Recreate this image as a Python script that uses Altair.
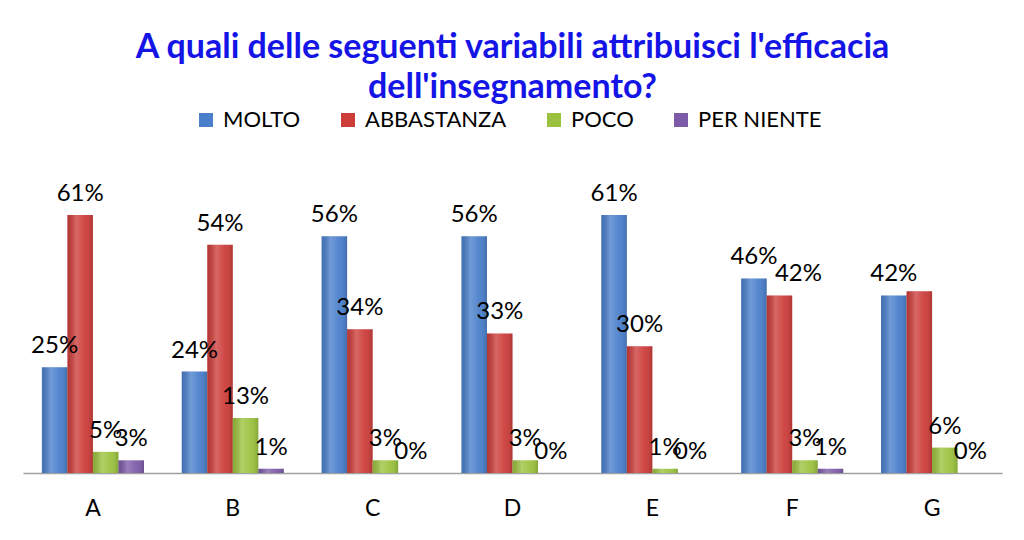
import altair as alt
import pandas as pd

categories = ["A", "B", "C", "D", "E", "F", "G"]
series = ["MOLTO", "ABBASTANZA", "POCO", "PER NIENTE"]
molto = [25, 24, 56, 56, 61, 46, 42]
abbastanza = [61, 54, 34, 33, 30, 42, 43]
poco = [5, 13, 3, 3, 1, 3, 6]
per_niente = [3, 1, 0, 0, 0, 1, 0]
colors = ["#4A7FCB", "#CC3D3A", "#9BC23E", "#7D5BA8"]

rows = []
for s, vals in zip(series, [molto, abbastanza, poco, per_niente]):
    for c, v in zip(categories, vals):
        label = f"{v}%"
        if c == "G" and s == "ABBASTANZA":
            label = ""
        shifted = (c == "F" and s == "ABBASTANZA")
        rows.append({"cat": c, "serie": s, "val": v, "label": label, "shifted": shifted})
df = pd.DataFrame(rows)

x = alt.X("cat:N", sort=categories, title=None,
          scale=alt.Scale(paddingInner=0.27, paddingOuter=0.135),
          axis=alt.Axis(labelAngle=0, labelFontSize=23, labelFont="Lato", labelColor="#000000",
                        ticks=False, domainColor="#A0A0A0", domainWidth=1.5, labelPadding=24))
xo = alt.XOffset("serie:N", sort=series, scale=alt.Scale(paddingInner=0, paddingOuter=0))
y = alt.Y("val:Q", scale=alt.Scale(domain=[0, 70]), axis=None)

bars = alt.Chart(df).mark_bar().encode(
    x=x, xOffset=xo, y=y,
    color=alt.Color("serie:N", sort=series,
                    scale=alt.Scale(domain=series, range=colors),
                    legend=alt.Legend(title=None, orient="none", direction="horizontal",
                                      legendX=172, legendY=-68, labelFontSize=22, labelFont="Lato",
                                      labelColor="#000000", symbolType="square",
                                      symbolSize=196, symbolStrokeWidth=0, columnPadding=36,
                                      labelOffset=6)),
)

shade = alt.Chart(df).mark_bar(
    color=alt.Gradient(gradient="linear", x1=0, x2=1, y1=0, y2=0,
                       stops=[alt.GradientStop(color="rgba(0,0,0,0.12)", offset=0),
                              alt.GradientStop(color="rgba(255,255,255,0.22)", offset=0.35),
                              alt.GradientStop(color="rgba(255,255,255,0.05)", offset=0.7),
                              alt.GradientStop(color="rgba(0,0,0,0.15)", offset=1)])
).encode(x=x, xOffset=xo, y=y)

labels = alt.Chart(df).transform_filter("!datum.shifted").mark_text(
    fontSize=24, font="Lato", color="#000000", baseline="bottom", dy=-9).encode(
    x=x, xOffset=xo, y=y, text="label:N"
)
labels_shifted = alt.Chart(df).transform_filter("datum.shifted").mark_text(
    fontSize=24, font="Lato", color="#000000", baseline="bottom", dy=-9, dx=19).encode(
    x=x, xOffset=xo, y=y, text="label:N"
)

chart = alt.layer(bars, shade, labels, labels_shifted).properties(
    width=979, height=296,
    title=alt.Title("A quali delle seguenti variabili attribuisci l'efficacia",
                    subtitle="dell'insegnamento?",
                    fontSize=34, subtitleFontSize=34, font="Lato", subtitleFont="Lato",
                    fontWeight="bold", subtitleFontWeight="bold",
                    color="#1414E6", subtitleColor="#1414E6",
                    anchor="middle", offset=4, subtitlePadding=6),
    autosize=alt.AutoSizeParams(type="none"),
    padding={"left": 15, "top": 169, "right": 14, "bottom": 59},
).configure_view(stroke=None)

chart.save("out.html", embed_options={"renderer": "svg", "actions": False})
